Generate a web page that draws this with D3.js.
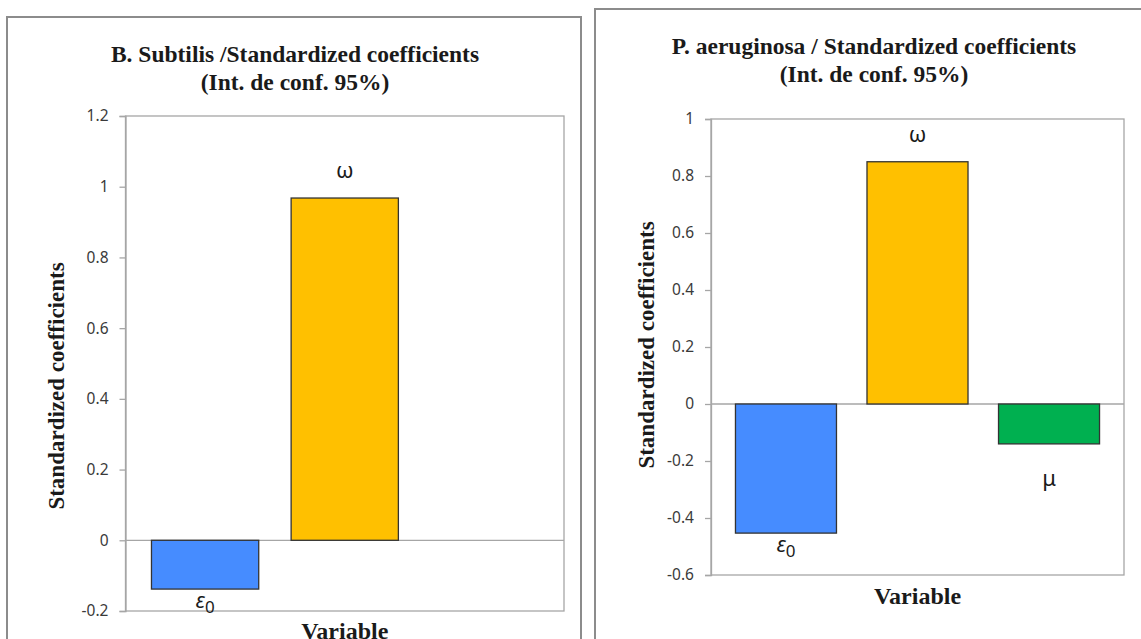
<!DOCTYPE html>
<html>
<head>
<meta charset="utf-8">
<script src="https://cdn.jsdelivr.net/npm/d3@7"></script>
<style>
  body { margin: 0; background: #fff; }
  svg { display: block; }
  .tick text { font-family: "Noto Sans", sans-serif; font-size: 15.5px; fill: #3a3a3a; }
</style>
</head>
<body>
<svg id="chart" width="1141" height="639"></svg>
<script>
const categories = ["ε0", "ω", "μ"];
const barColors = ["#468cff", "#ffc000", "#00b050"];

// B. Subtilis
const subtilisValues = [-0.138, 0.968, null];
const subtilisTicks = [-0.2, 0, 0.2, 0.4, 0.6, 0.8, 1, 1.2];

// P. aeruginosa
const aeruginosaValues = [-0.453, 0.85, -0.14];
const aeruginosaTicks = [-0.6, -0.4, -0.2, 0, 0.2, 0.4, 0.6, 0.8, 1];

const svg = d3.select("#chart");
const serif = "'Liberation Serif', 'Times New Roman', serif";

function drawPanel(opt) {
    const g = svg.append("g");

    // panel frame
    g.append("rect")
        .attr("x", opt.frame[0]).attr("y", opt.frame[1])
        .attr("width", opt.frame[2]).attr("height", opt.frame[3])
        .attr("fill", "none").attr("stroke", "#8c8c8c").attr("stroke-width", 2);

    // titles
    opt.title.forEach((t, i) => {
        g.append("text")
            .attr("x", opt.titleX).attr("y", opt.titleY + i * 28)
            .attr("text-anchor", "middle")
            .style("font-family", serif)
            .style("font-weight", "bold").style("font-size", "23.5px")
            .attr("fill", "#1a1a1a")
            .text(t);
    });

    const x = d3.scaleBand()
        .domain(categories)
        .range([opt.left, opt.right])
        .paddingInner(0.232)
        .paddingOuter(0.186);

    const y = d3.scaleLinear()
        .domain(opt.domain)
        .range([opt.bottom, opt.top]);

    // plot area border
    g.append("rect")
        .attr("x", opt.left).attr("y", opt.top)
        .attr("width", opt.right - opt.left).attr("height", opt.bottom - opt.top)
        .attr("fill", "none").attr("stroke", "#a6a6a6").attr("stroke-width", 1.3);

    const axis = g.append("g")
        .attr("transform", "translate(" + opt.left + ",0)")
        .call(d3.axisLeft(y).tickValues(opt.ticks).tickSize(6).tickPadding(11)
            .tickFormat(d => String(+d.toFixed(1))));
    axis.selectAll("line, path").attr("stroke", "#a6a6a6").attr("stroke-width", 1.3);

    // zero line
    g.append("line")
        .attr("x1", opt.left).attr("x2", opt.right)
        .attr("y1", y(0)).attr("y2", y(0))
        .attr("stroke", "#a6a6a6").attr("stroke-width", 1.3);

    const data = categories.map((c, i) => ({ c: c, v: opt.values[i], color: barColors[i] }))
        .filter(d => d.v !== null);

    g.selectAll("rect.bar")
        .data(data)
        .enter().append("rect")
        .attr("class", "bar")
        .attr("x", d => x(d.c))
        .attr("width", x.bandwidth())
        .attr("y", d => y(Math.max(0, d.v)))
        .attr("height", d => Math.abs(y(d.v) - y(0)))
        .attr("fill", d => d.color)
        .attr("stroke", "#333")
        .attr("stroke-width", 1.3);

    // data labels (category names)
    data.forEach(d => {
        const cx = x(d.c) + x.bandwidth() / 2;
        const t = g.append("text")
            .attr("x", cx)
            .attr("text-anchor", "middle")
            .style("font-family", "'Noto Sans', sans-serif")
            .style("font-size", "22px")
            .attr("fill", "#1a1a1a");
        if (d.c === "ε0") {
            t.attr("y", y(d.v) + 19);
            t.append("tspan").style("font-style", "italic").text("ε");
            t.append("tspan").attr("dy", 5).style("font-size", "17px").text("0");
        } else if (d.c === "μ") {
            t.attr("y", y(d.v) + 42).text(d.c);
        } else {
            t.attr("y", y(d.v) + (d.v >= 0 ? -20 : 22)).text(d.c);
        }
    });

    // axis titles
    g.append("text")
        .attr("transform", "translate(" + opt.yLabelX + "," + opt.yLabelY + ") rotate(-90)")
        .attr("text-anchor", "middle")
        .style("font-family", serif)
        .style("font-weight", "bold").style("font-size", "23px")
        .attr("fill", "#1a1a1a")
        .text("Standardized coefficients");

    g.append("text")
        .attr("x", (opt.left + opt.right) / 2).attr("y", opt.xLabelY)
        .attr("text-anchor", "middle")
        .style("font-family", serif)
        .style("font-weight", "bold").style("font-size", "24px")
        .attr("fill", "#1a1a1a")
        .text("Variable");
}

drawPanel({
    frame: [7, 17, 574, 640],
    title: ["B. Subtilis /Standardized coefficients", "(Int. de conf. 95%)"],
    titleX: 295, titleY: 62,
    left: 125.5, right: 564, top: 116, bottom: 611,
    domain: [-0.2, 1.2], ticks: subtilisTicks,
    values: subtilisValues,
    yLabelX: 64, yLabelY: 386, xLabelY: 639
});

drawPanel({
    frame: [595, 9, 560, 650],
    title: ["P. aeruginosa / Standardized coefficients", "(Int. de conf. 95%)"],
    titleX: 874, titleY: 54,
    left: 711, right: 1124, top: 119, bottom: 575,
    domain: [-0.6, 1], ticks: aeruginosaTicks,
    values: aeruginosaValues,
    yLabelX: 654, yLabelY: 345, xLabelY: 604
});
</script>
</body>
</html>
